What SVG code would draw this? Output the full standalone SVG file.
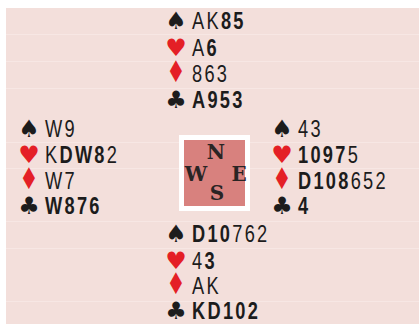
<svg xmlns="http://www.w3.org/2000/svg" width="419" height="324" viewBox="0 0 419 324">
<style>
.bg{fill:#f3dfdb}
.ln{stroke:#f7e7e4;stroke-width:1}
.t{font-family:"Liberation Sans",Arial,sans-serif;font-size:24px;fill:#1c1c1c;letter-spacing:3px}
.b{font-weight:700}
.s{font-family:"DejaVu Sans",sans-serif;font-size:24px;text-anchor:middle}
.blk{fill:#1c1c1c}
.red{fill:#e41f26}
.c{font-family:"DejaVu Serif",serif;font-weight:700;font-size:20px;fill:#2a2424;text-anchor:middle}
</style>
<rect width="419" height="324" fill="#ffffff"/>
<rect class="bg" x="6" y="8" width="413" height="316"/>
<g id="lines">
<line class="ln" x1="6" y1="34.5" x2="419" y2="34.5"/>
<line class="ln" x1="6" y1="61.5" x2="419" y2="61.5"/>
<line class="ln" x1="6" y1="88.5" x2="419" y2="88.5"/>
<line class="ln" x1="6" y1="142.5" x2="419" y2="142.5"/>
<line class="ln" x1="6" y1="168.5" x2="419" y2="168.5"/>
<line class="ln" x1="6" y1="221.5" x2="419" y2="221.5"/>
<line class="ln" x1="6" y1="248.5" x2="419" y2="248.5"/>
<line class="ln" x1="6" y1="301.5" x2="419" y2="301.5"/>
</g>
<g id="north">
<text class="s blk" x="176" y="29">♠</text>
<text class="s red" x="176" y="56">♥</text>
<text class="s red" transform="translate(176,82) scale(0.9,1.25)">♦</text>
<text class="s blk" x="176" y="108">♣</text>
<g transform="translate(192,0) scale(0.76,1)">
<text class="t" x="0" y="29">AK<tspan class="b">85</tspan></text>
<text class="t" x="0" y="56">A<tspan class="b">6</tspan></text>
<text class="t" x="0" y="82">863</text>
<text class="t b" x="0" y="108">A953</text>
</g>
</g>
<g id="west">
<text class="s blk" x="29" y="137">♠</text>
<text class="s red" x="29" y="163">♥</text>
<text class="s red" transform="translate(29,189) scale(0.9,1.25)">♦</text>
<text class="s blk" x="29" y="214">♣</text>
<g transform="translate(45,0) scale(0.76,1)">
<text class="t" x="0" y="137">W9</text>
<text class="t" x="0" y="163">K<tspan class="b">DW8</tspan>2</text>
<text class="t" x="0" y="189">W7</text>
<text class="t b" x="0" y="214">W876</text>
</g>
</g>
<g id="east">
<text class="s blk" x="282" y="137">♠</text>
<text class="s red" x="282" y="163">♥</text>
<text class="s red" transform="translate(282,189) scale(0.9,1.25)">♦</text>
<text class="s blk" x="282" y="214">♣</text>
<g transform="translate(298,0) scale(0.76,1)">
<text class="t" x="0" y="137">43</text>
<text class="t" x="0" y="163"><tspan class="b">1097</tspan>5</text>
<text class="t" x="0" y="189"><tspan class="b">D108</tspan>652</text>
<text class="t b" x="0" y="214">4</text>
</g>
</g>
<g id="south">
<text class="s blk" x="176" y="242">♠</text>
<text class="s red" x="176" y="269">♥</text>
<text class="s red" transform="translate(176,294) scale(0.9,1.25)">♦</text>
<text class="s blk" x="176" y="319">♣</text>
<g transform="translate(192,0) scale(0.76,1)">
<text class="t" x="0" y="242"><tspan class="b">D10</tspan>762</text>
<text class="t" x="0" y="269">4<tspan class="b">3</tspan></text>
<text class="t" x="0" y="294">AK</text>
<text class="t b" x="0" y="319">KD102</text>
</g>
</g>
<g id="compass">
<rect x="181.5" y="137.5" width="66" height="71" fill="#d8817e" stroke="#ffffff" stroke-width="5"/>
<text class="c" x="216" y="159">N</text>
<text class="c" x="196" y="181">W</text>
<text class="c" x="239" y="181">E</text>
<text class="c" x="217" y="200">S</text>
</g>
</svg>
